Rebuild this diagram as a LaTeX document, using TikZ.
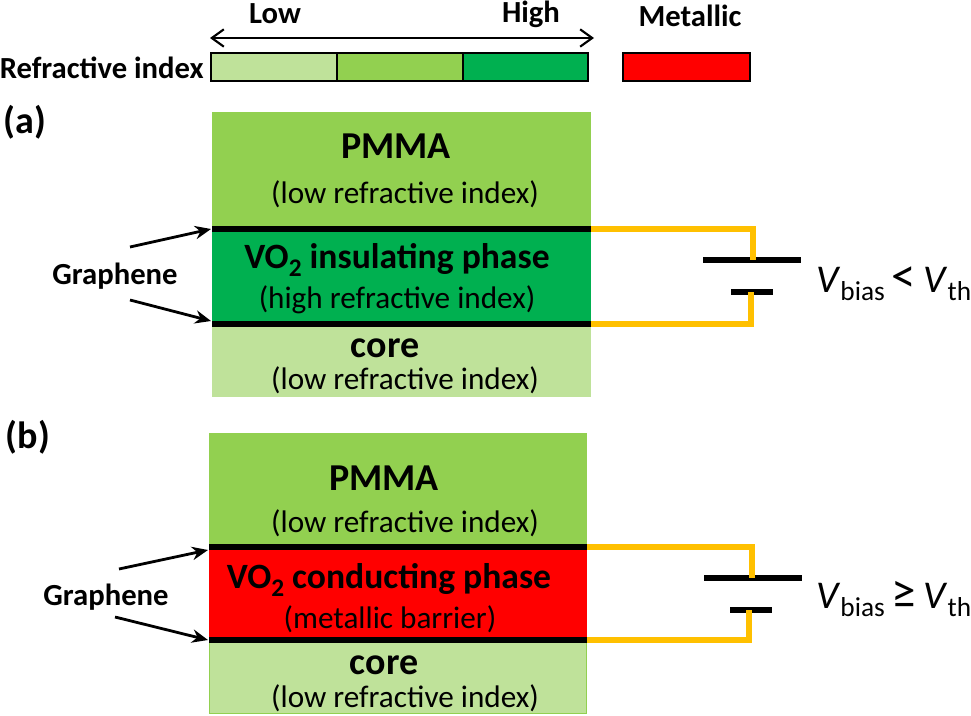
\documentclass[tikz,border=0pt]{standalone}
\usepackage{fontspec}
\setmainfont{Carlito}
\usetikzlibrary{arrows.meta}
\definecolor{lowidx}{HTML}{BFE29A}
\definecolor{midx}{HTML}{92D050}
\definecolor{highidx}{HTML}{00B050}
\definecolor{wirecol}{HTML}{FFC000}
\tikzset{
hd/.style={font=\fontsize{26.7}{30}\selectfont\bfseries},
big/.style={font=\fontsize{28.5}{32}\selectfont\bfseries},
sub/.style={font=\fontsize{23.4}{27}\selectfont},
lab/.style={font=\fontsize{23}{27}\selectfont\bfseries},
volt/.style={font=\fontsize{29.5}{33}\selectfont,anchor=west,inner sep=0},
ptr/.style={line width=2.1pt,-{Stealth[length=12pt,width=10pt]}},
wire/.style={draw=wirecol,line width=3.8pt},
}
\newcommand{\lyr}[5]{
\fill[#5] (#1,#2) rectangle (#3,#4);}
\newcommand{\idx}[5]{
\draw[fill=#5,line width=0.9pt] (#1,#2) rectangle (#3,#4);}
\newcommand{\grph}[4]{
\coordinate (#1l) at (#2,#4);
\coordinate (#1r) at (#3,#4);
\draw[line width=4.2pt] (#1l)--(#1r);}
\newcommand{\plate}[4]{
\coordinate (#1l) at (#2,#4);
\coordinate (#1r) at (#3,#4);
\draw[line width=3.8pt] (#1l)--(#1r);}
\newcommand{\lowsub}[1]{\raisebox{-0.22em}{\fontsize{19}{20}\selectfont #1}}
\newcommand{\vsub}[1]{\raisebox{-0.2em}{\fontsize{20.5}{22}\selectfont #1}}
\newcommand{\rel}[1]{\hspace{5pt}\scalebox{1.25}{#1}\hspace{5.5pt}}

\begin{document}
\begin{tikzpicture}[x=0.75pt,y=-0.75pt]
\useasboundingbox (0,0) rectangle (971,715);

% legend
\idx{211}{53}{337}{81}{lowidx}
\idx{337}{53}{463}{81}{midx}
\idx{463}{53}{588}{81}{highidx}
\idx{623}{53}{750}{81}{red}
\coordinate (scalel) at (210,38);
\coordinate (scaler) at (594,38);
\draw[line width=1.6pt,{Straight Barb[length=9pt,width=13pt]}-{Straight Barb[length=9pt,width=13pt]}] (scalel)--(scaler);
\node[lab] (low) at (275,14) {Low};
\node[lab] (high) at (531,14) {High};
\node[lab] (metal) at (690,16) {Metallic};
\node[lab,anchor=east,inner sep=0] (refidx) at (204,68) {Refractive index};

% (a)
\node[big] (la) at (25,122) {(a)};
\lyr{212}{112}{591}{229}{midx}
\lyr{212}{229}{591}{324}{highidx}
\lyr{212}{324}{591}{397}{lowidx}
\grph{gat}{212}{591}{229}
\grph{gab}{212}{591}{324}
\plate{pa}{703}{801}{260}
\plate{qa}{731}{773}{292}
\coordinate (wat) at (753,260);
\coordinate (wab) at (751,292);
\draw[wire] (gatr) -| (wat);
\draw[wire] (gabr) -| (wab);
\node[big] (pmmaa) at (396,146) {PMMA};
\node[sub] (lowa) at (405,194) {(low refractive index)};
\node[hd] (voa) at (397,260) {VO\lowsub{2} insulating phase};
\node[sub] (higha) at (397,300) {(high refractive index)};
\node[big] (corea) at (385,348) {core};
\node[sub] (lowb) at (405,380) {(low refractive index)};
\node[lab] (gra) at (115,276) {Graphene};
\coordinate (aa) at (130,247);
\coordinate (ab) at (130,300);
\coordinate (ac) at (211,229);
\coordinate (ad) at (211,321);
\draw[ptr] (aa)--(ac);
\draw[ptr] (ab)--(ad);
\node[volt] (vala) at (816,284) {\textit{V}\vsub{bias}\rel{<}\textit{V}\vsub{th}};

% (b)
\node[big] (lb) at (28,437) {(b)};
\lyr{209}{433}{587}{547}{midx}
\lyr{209}{547}{587}{640}{red}
\draw[fill=lowidx,draw=midx,line width=0.9pt] (209.5,640) rectangle (586.5,713.5);
\grph{gbt}{209}{587}{547}
\grph{gbb}{209}{587}{640}
\plate{pb}{704}{802}{578}
\plate{qb}{730}{772}{610}
\coordinate (wbt) at (752,578);
\coordinate (wbb) at (749,610);
\draw[wire] (gbtr) -| (wbt);
\draw[wire] (gbbr) -| (wbb);
\node[big] (pmmab) at (384,478) {PMMA};
\node[sub] (lowc) at (405,523) {(low refractive index)};
\node[hd] (vob) at (389,580) {VO\lowsub{2} conducting phase};
\node[sub] (barr) at (390,619) {(metallic barrier)};
\node[big] (coreb) at (384,665) {core};
\node[sub] (lowd) at (405,698) {(low refractive index)};
\node[lab] (grb) at (106,597) {Graphene};
\coordinate (ba) at (119,569);
\coordinate (bb) at (115,617);
\coordinate (bc) at (208,550);
\coordinate (bd) at (208,640);
\draw[ptr] (ba)--(bc);
\draw[ptr] (bb)--(bd);
\node[volt] (valb) at (816,599) {\textit{V}\vsub{bias}\rel{≥}\textit{V}\vsub{th}};

\end{tikzpicture}
\end{document}
